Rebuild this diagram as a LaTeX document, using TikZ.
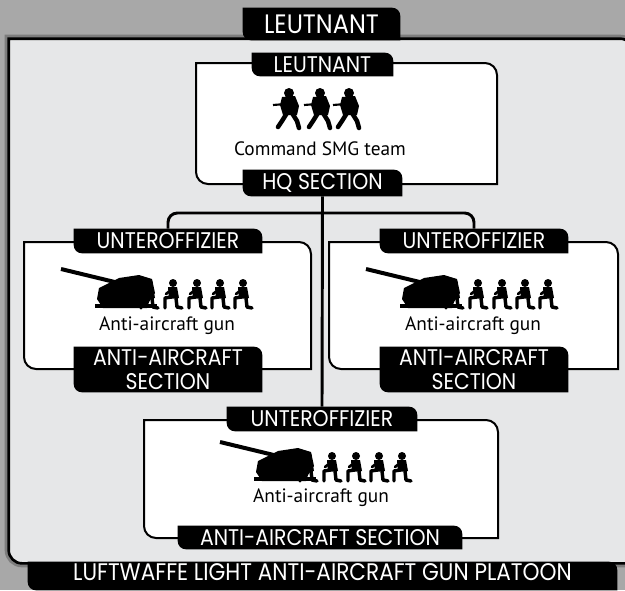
\documentclass[tikz,border=0pt]{standalone}
\usepackage{fontspec}
\setmainfont{PT Sans}
\newfontfamily\tabfont{Poppins}[FakeStretch=0.9]
\usetikzlibrary{fit}

\definecolor{stone}{HTML}{A8A8A8}
\definecolor{panelgrey}{HTML}{E6E7E8}

% box with rounded top right and bottom left corners
\newdimen\dgxa \newdimen\dgya \newdimen\dgxb \newdimen\dgyb
\def\diagcorner{6pt}
\makeatletter
\pgfdeclareshape{diag box}{
  \inheritsavedanchors[from=rectangle]
  \inheritanchorborder[from=rectangle]
  \inheritanchor[from=rectangle]{center}
  \inheritanchor[from=rectangle]{north}
  \inheritanchor[from=rectangle]{south}
  \inheritanchor[from=rectangle]{east}
  \inheritanchor[from=rectangle]{west}
  \inheritanchor[from=rectangle]{north east}
  \inheritanchor[from=rectangle]{north west}
  \inheritanchor[from=rectangle]{south east}
  \inheritanchor[from=rectangle]{south west}
  \inheritanchor[from=rectangle]{base}
  \backgroundpath{%
    \southwest \dgxa=\pgf@x \dgya=\pgf@y
    \northeast \dgxb=\pgf@x \dgyb=\pgf@y
    \pgfpathmoveto{\pgfqpoint{\dgxa}{\dgyb}}%
    \pgfpathlineto{\pgfpoint{\dgxb-\diagcorner}{\dgyb}}%
    \pgfpatharc{90}{0}{\diagcorner}%
    \pgfpathlineto{\pgfqpoint{\dgxb}{\dgya}}%
    \pgfpathlineto{\pgfpoint{\dgxa+\diagcorner}{\dgya}}%
    \pgfpatharc{270}{180}{\diagcorner}%
    \pgfpathclose
  }
}
\makeatother

\tikzset{
  diag corner/.code={\def\diagcorner{#1}},
  panel/.style={shape=diag box, diag corner=10pt, fill=panelgrey, draw=black,
    line width=2pt, inner sep=0pt,
    preaction={draw=black, line width=6pt, opacity=0.25}},
  unitbox/.style={shape=diag box, diag corner=9pt, fill=white, draw=black,
    line width=1.5pt, inner sep=0pt},
  tabbox/.style={shape=diag box, diag corner=6pt, fill=black, text=white,
    inner sep=0pt, align=center, minimum width=141pt, minimum height=18pt,
    font=\tabfont\fontsize{17}{18}\selectfont},
  caption/.style={inner sep=0pt, font=\fontsize{14.5}{16}\selectfont},
  link/.style={line width=2.2pt, rounded corners=7pt},
  limb/.style={line width=2.6pt, line cap=round, line join=round},
  runner/.pic={
    \fill (0,35) circle[radius=5];
    \fill (-7,31) -- (6,32) -- (10,22) -- (8,13) -- (-6,13) -- (-9,23) -- cycle;
    \draw[limb, line width=3.4pt] (-2,15) -- (-7,7) -- (-11,1);
    \draw[limb, line width=3.4pt] (3,15) -- (8,7) -- (10,0);
    \draw[line width=1.6pt] (-3,24) -- (-16,23);
    \draw[line width=2.4pt, line cap=round] (4,27) -- (-2,22);
  },
  crewman/.pic={
    \fill (0,25) circle[radius=4];
    \fill (-5,21) -- (4,21) -- (6,10) -- (-4,9) -- cycle;
    \draw[limb, line width=2.6pt] (-2,11) -- (-8,10) -- (-8,0);
    \draw[limb, line width=2.6pt] (3,10) -- (4,1) -- (9,0);
    \draw[line width=2pt, line cap=round] (-2,18) -- (-7,14);
  },
  aagun/.pic={
    \draw[line width=3pt] (-100,39) -- (-38,24);
    \fill (-62,20) -- (-42,30) -- (-22,33) -- (-9,29) -- (-6,15) -- (-12,6)
      -- (-14,0) -- (-58,0) -- (-64,9) -- cycle;
    \fill (-66,4) rectangle (-4,0);
    \foreach \cx in {-12,12,36,59,82}
      \pic at (\cx,0) {crewman};
  }
}

\begin{document}
\begin{tikzpicture}[x=0.75pt,y=0.75pt,yscale=-1,xscale=1]
\useasboundingbox (0,0) rectangle (625,590);
\fill[stone] (0,0) rectangle (625,590);

%Shape: platoon panel
\node[panel, fit={(10,40) (632,562)}] (platoon) {};
% Text Node
\node[tabbox, minimum width=117.75pt, minimum height=24pt,
  font=\tabfont\fontsize{20}{22}\selectfont] (pltcmd) at (321.5,24) {LEUTNANT};
%Shape: platoon banner
\node[tabbox, minimum width=441.75pt, minimum height=21pt] (pltbar) at (322.5,576) {};
% Text Node
\node[inner sep=0pt, text=white, font=\tabfont\fontsize{18}{20}\selectfont] (pltname)
  at (322.5,572.5) {LUFTWAFFE LIGHT ANTI-AIRCRAFT GUN PLATOON};

%Shape: HQ section
\node[unitbox, fit={(197,64) (496,183)}] (hq) {};
\node[tabbox, minimum width=105.75pt, minimum height=17.25pt] (hqcmd) at (322.5,64.5) {LEUTNANT};
\pic at (289,128) {runner};
\pic at (320,128) {runner};
\pic at (349,128) {runner};
% Text Node
\node[caption] (hqteam) at (320,149) {Command SMG team};
\node[tabbox, minimum width=119.25pt, minimum height=19.5pt] (hqname) at (322.5,183) {HQ SECTION};

%Shape: left section
\node[unitbox, fit={(25,243) (310,368)}] (lsec) {};
\node[tabbox] (lcmd) at (168,241) {UNTEROFFIZIER};
\pic at (161,308) {aagun};
% Text Node
\node[caption] (lteam) at (167,326) {Anti-aircraft gun};
\node[tabbox, minimum height=33.75pt] (lname) at (168,369.5) {ANTI-AIRCRAFT\\SECTION};

%Shape: right section
\node[unitbox, fit={(330,243) (617,368)}] (rsec) {};
\node[tabbox] (rcmd) at (474,241) {UNTEROFFIZIER};
\pic at (466,308) {aagun};
% Text Node
\node[caption] (rteam) at (473,326) {Anti-aircraft gun};
\node[tabbox, minimum height=33.75pt] (rname) at (474,369.5) {ANTI-AIRCRAFT\\SECTION};

%Shape: bottom section
\node[unitbox, fit={(145,421) (497,537)}] (bsec) {};
\node[tabbox, minimum width=142.5pt] (bcmd) at (322,419) {UNTEROFFIZIER};
\pic at (320,481) {aagun};
% Text Node
\node[caption] (bteam) at (321,498) {Anti-aircraft gun};
\node[tabbox, minimum width=213pt, minimum height=17.25pt] (bname) at (320,537.5) {ANTI-AIRCRAFT SECTION};

%Straight Lines
\coordinate (fork) at (hqname.south |- 0,213);
\draw[link] (hqname.south) -- (bcmd.north);
\draw[link] (lcmd.north) |- (fork) -| (rcmd.north);

\end{tikzpicture}
\end{document}
